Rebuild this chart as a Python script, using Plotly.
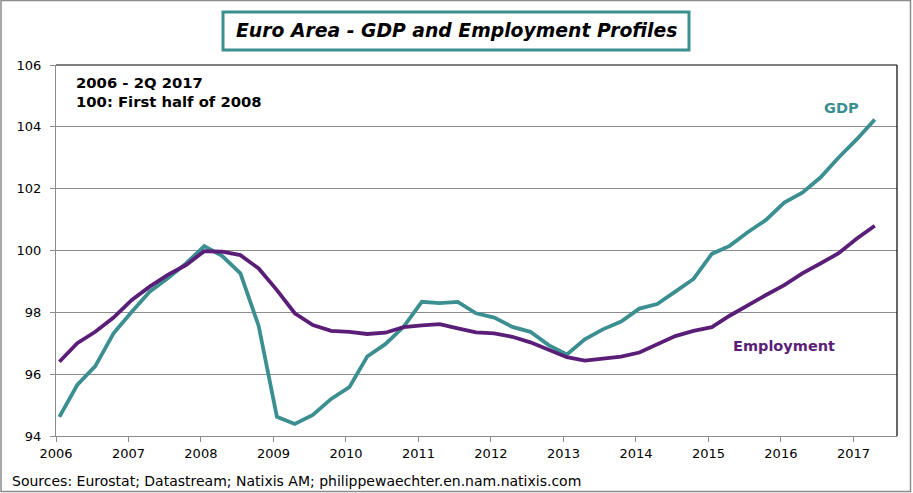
import plotly.graph_objects as go
import pandas as pd

# Quarterly data, 2006Q1 - 2017Q2 (index: 100 = first half of 2008)
quarters = [f"{y}Q{q}" for y in range(2006, 2018) for q in range(1, 5)][:46]

gdp = [94.62, 95.65, 96.26, 97.32, 98.02, 98.67, 99.10, 99.58,
       100.14, 99.82, 99.26, 97.56, 94.62, 94.39, 94.68, 95.20,
       95.58, 96.57, 96.97, 97.53, 98.34, 98.30, 98.34, 97.97,
       97.83, 97.53, 97.37, 96.94, 96.64, 97.13, 97.45, 97.70,
       98.12, 98.27, 98.67, 99.08, 99.89, 100.15, 100.59, 100.99,
       101.55, 101.87, 102.36, 103.01, 103.60, 104.24]

employment = [96.40, 97.00, 97.37, 97.83, 98.40, 98.83, 99.21, 99.53,
              99.98, 99.96, 99.85, 99.42, 98.72, 97.97, 97.59, 97.40,
              97.37, 97.30, 97.34, 97.52, 97.58, 97.62, 97.48, 97.35,
              97.32, 97.21, 97.03, 96.78, 96.55, 96.44, 96.49, 96.57,
              96.70, 96.98, 97.23, 97.40, 97.52, 97.89, 98.24, 98.56,
              98.88, 99.26, 99.58, 99.91, 100.39, 100.80]

year_ticks = [str(y) for y in range(2006, 2018)]
y_ticks = [94, 96, 98, 100, 102, 104, 106]

dates = [pd.Timestamp(year=int(q[:4]), month=(int(q[-1]) - 1) * 3 + 1, day=18) for q in quarters]

TEAL = "#3c8f91"
PURPLE = "#5b1e78"
GRID = "#8c8c8c"
FONT = "DejaVu Sans"

W, H = 913, 493
L, R, T, B = 56, 897, 65, 436


def px(x):
    return (x - L) / (R - L)


def py(y):
    return (B - y) / (B - T)


fig = go.Figure()
fig.add_trace(go.Scatter(x=dates, y=gdp, mode="lines", name="GDP",
                         line=dict(color=TEAL, width=3.8)))
fig.add_trace(go.Scatter(x=dates, y=employment, mode="lines", name="Employment",
                         line=dict(color=PURPLE, width=3.8)))

fig.update_layout(
    width=W, height=H,
    margin=dict(l=L, r=W - R, t=T, b=H - B),
    paper_bgcolor="white", plot_bgcolor="white",
    showlegend=False,
    font=dict(family=FONT, size=13, color="black"),
)

fig.update_xaxes(
    type="date",
    range=["2006-01-01", "2017-08-08"],
    tickvals=[pd.Timestamp(year=int(y), month=1, day=1) for y in year_ticks],
    ticktext=year_ticks,
    ticks="outside", ticklen=5, tickcolor=GRID, tickwidth=1,
    showline=True, linecolor=GRID, linewidth=1,
    showgrid=False, zeroline=False,
    tickfont=dict(family=FONT, size=13, color="black"),
)
fig.update_yaxes(
    range=[94, 106],
    tickvals=y_ticks,
    ticktext=[str(v) for v in y_ticks],
    ticks="outside", ticklen=5, tickcolor=GRID, tickwidth=1,
    ticklabelstandoff=6,
    showline=True, linecolor=GRID, linewidth=1,
    showgrid=True, gridcolor=GRID, gridwidth=1,
    zeroline=False,
    tickfont=dict(family=FONT, size=13, color="black"),
)

shapes = [
    # top and right black frame of the plot area
    dict(type="line", xref="paper", yref="paper", x0=0, x1=1, y0=1, y1=1,
         line=dict(color="black", width=1.2)),
    dict(type="line", xref="paper", yref="paper", x0=1, x1=1, y0=0, y1=1,
         line=dict(color="black", width=1.2)),
    # outer frame of the chart
    dict(type="rect", xref="paper", yref="paper",
         x0=px(1), x1=px(910.5), y0=py(491.5), y1=py(0.5),
         line=dict(color="#8c8c8c", width=1.5), layer="below"),
    # title box
    dict(type="rect", xref="paper", yref="paper",
         x0=px(223), x1=px(689), y0=py(50), y1=py(12),
         line=dict(color=TEAL, width=3), fillcolor="white"),
]
fig.update_layout(shapes=shapes)

annotations = [
    dict(text="<b><i>Euro Area - GDP and Employment Profiles</i></b>",
         x=px(456), y=py(31), xref="paper", yref="paper",
         xanchor="center", yanchor="middle", showarrow=False,
         font=dict(family=FONT, size=18.8, color="black")),
    dict(text="<b>2006 - 2Q 2017</b>", x=px(74), y=py(83),
         xref="paper", yref="paper", xanchor="left", yanchor="middle",
         showarrow=False, font=dict(family=FONT, size=14.8, color="black")),
    dict(text="<b>100: First half of 2008</b>", x=px(74), y=py(101),
         xref="paper", yref="paper", xanchor="left", yanchor="middle",
         showarrow=False, font=dict(family=FONT, size=14.8, color="black")),
    dict(text="<b>GDP</b>", x=px(841), y=py(108),
         xref="paper", yref="paper", xanchor="center", yanchor="middle",
         showarrow=False, font=dict(family=FONT, size=14.5, color=TEAL)),
    dict(text="<b>Employment</b>", x=px(784), y=py(346),
         xref="paper", yref="paper", xanchor="center", yanchor="middle",
         showarrow=False, font=dict(family=FONT, size=14.5, color=PURPLE)),
    dict(text="Sources: Eurostat; Datastream; Natixis AM; philippewaechter.en.nam.natixis.com",
         x=px(10), y=py(481), xref="paper", yref="paper",
         xanchor="left", yanchor="middle", showarrow=False,
         font=dict(family=FONT, size=14, color="black")),
]
fig.update_layout(annotations=annotations)

fig.write_html("out.html")
